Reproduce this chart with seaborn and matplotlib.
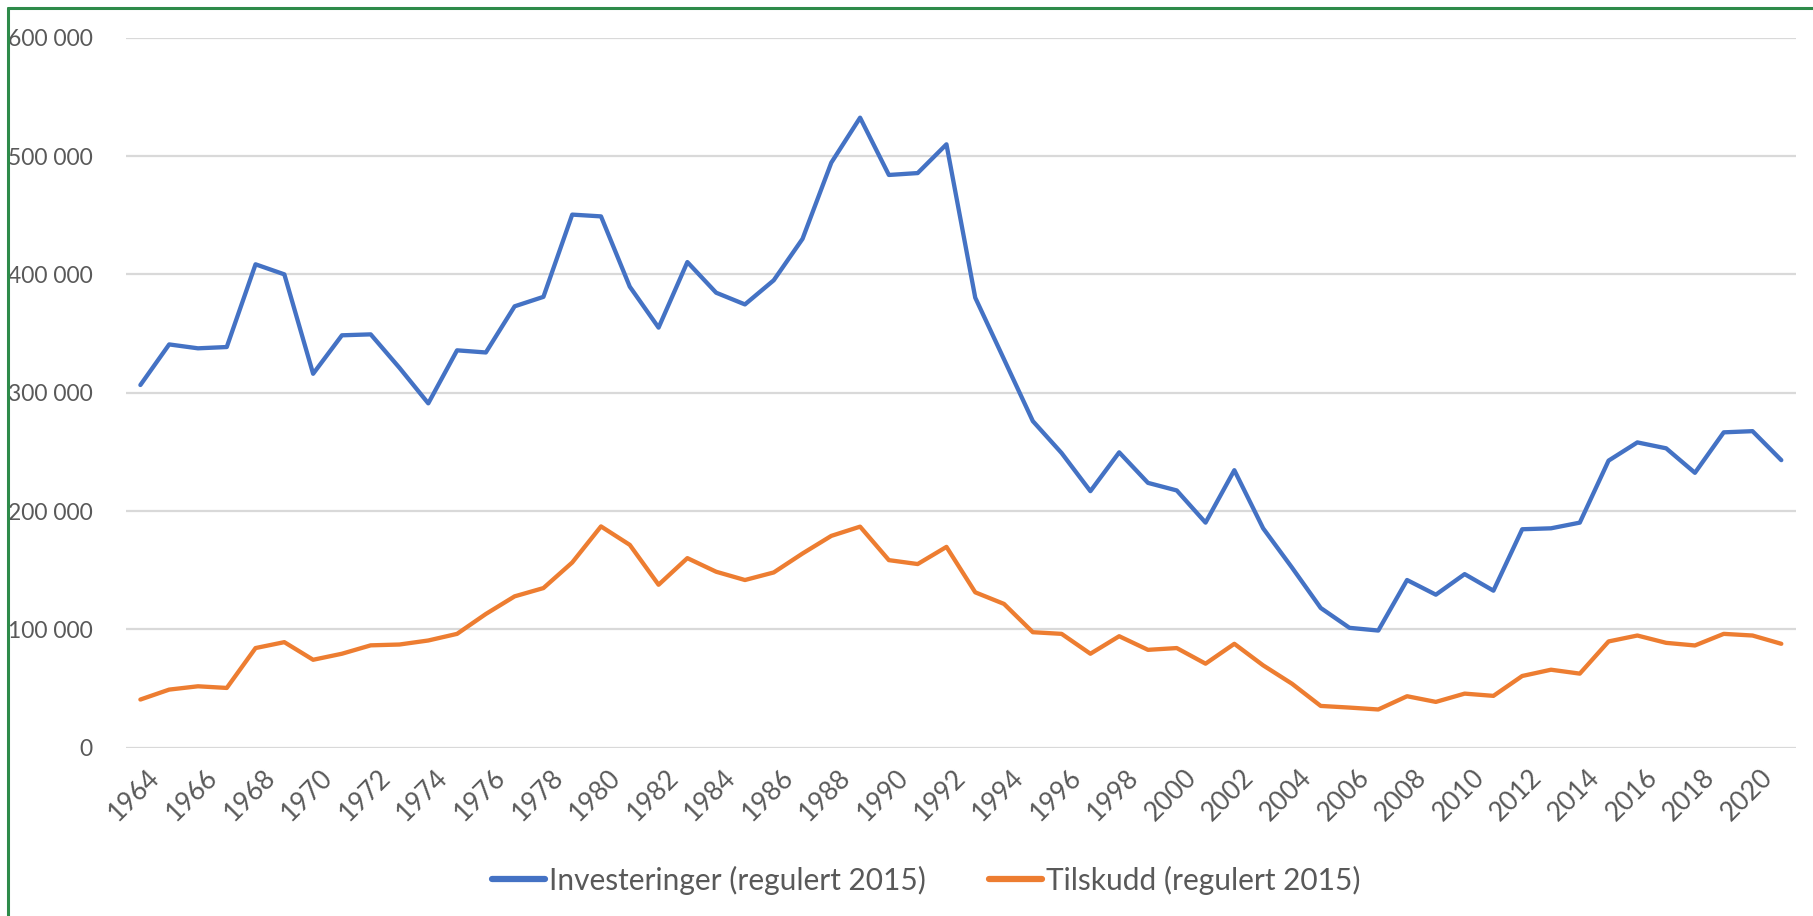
import matplotlib
matplotlib.use("Agg")
import matplotlib.pyplot as plt
import matplotlib.ticker as mticker
import matplotlib.transforms as mtransforms
from matplotlib.lines import Line2D
import seaborn as sns
import pandas as pd

years = list(range(1964, 2022))

investeringer = [
    306500, 340800, 337500, 338600, 408500, 400000, 316000, 348500, 349300, 321000,
    291000, 335800, 334000, 373000, 381000, 450500, 449000, 389600, 355000, 410400,
    384500, 374600, 395000, 430000, 494400, 532400, 484000, 485600, 509900, 380300,
    328200, 276000, 249000, 216800, 249600, 223800, 217400, 190200, 234500, 185400,
    152300, 118100, 101300, 99000, 141700, 129300, 146700, 132700, 184600, 185400,
    190200, 242600, 258000, 253000, 232300, 266500, 267500, 243000,
]

tilskudd = [
    40700, 49100, 51900, 50500, 84200, 89200, 74300, 79400, 86500, 87200,
    90600, 96200, 113000, 127900, 134900, 156500, 187000, 171400, 137700, 160200,
    148700, 141700, 148100, 164100, 179000, 186800, 158500, 155200, 169700, 131300,
    121500, 97600, 96200, 79400, 94200, 82700, 84200, 71000, 87800, 69600,
    54100, 35300, 33900, 32300, 43500, 38700, 45700, 43800, 60600, 65900,
    62600, 89800, 94800, 88600, 86400, 96200, 94800, 87800,
]

series_names = ["Investeringer (regulert 2015)", "Tilskudd (regulert 2015)"]
colors = ["#4472C4", "#ED7D31"]
x_tick_labels = [str(y) for y in range(1964, 2021, 2)]
y_ticks = [0, 100000, 200000, 300000, 400000, 500000, 600000]

df = pd.DataFrame({
    "year": years * 2,
    "value": investeringer + tilskudd,
    "series": [series_names[0]] * len(years) + [series_names[1]] * len(years),
})

sns.set_theme(style="white")
plt.rcParams["font.family"] = ["Lato", "DejaVu Sans"]

W, H = 1813, 916
fig = plt.figure(figsize=(W / 100, H / 100), dpi=100)
left, right = 126, 1795.7
top, bottom = 37.7, 747.7
ax = fig.add_axes([left / W, 1 - bottom / H, (right - left) / W, (bottom - top) / H])

sns.lineplot(data=df, x="year", y="value", hue="series", palette=colors,
             linewidth=3.1, ax=ax, legend=False, sort=False)
for ln in ax.get_lines():
    ln.set_solid_capstyle("round")
    ln.set_solid_joinstyle("round")

ax.set_xlim(1963.5, 2021.5)
ax.set_ylim(0, 600000)
ax.set_yticks(y_ticks)
ax.yaxis.set_major_formatter(mticker.FuncFormatter(lambda v, p: f"{int(v):,}".replace(",", " ")))
ax.set_xticks([int(t) for t in x_tick_labels])
ax.set_xticklabels(x_tick_labels)
ax.grid(axis="y", color="#D9D9D9", linewidth=1.6)
ax.set_axisbelow(True)
for s in ax.spines.values():
    s.set_visible(False)
ax.set_xlabel("")
ax.set_ylabel("")
ax.tick_params(axis="y", length=0, pad=24, labelsize=16.5, labelcolor="#595959")
ax.tick_params(axis="x", length=0, pad=12, labelsize=19, labelcolor="#595959")
offset = mtransforms.ScaledTranslation(7 / 100, 0, fig.dpi_scale_trans)
for lab in ax.get_xticklabels():
    lab.set_rotation(45)
    lab.set_ha("right")
    lab.set_va("top")
    lab.set_rotation_mode("anchor")
    lab.set_transform(lab.get_transform() + offset)

handles = [Line2D([0], [0], color=c, lw=4.5, solid_capstyle="round") for c in colors]
fig.legend(handles, series_names, loc="center", bbox_to_anchor=(926 / W, 1 - 880 / H),
           ncol=2, frameon=False, fontsize=21.5, labelcolor="#595959",
           handlelength=1.8, handletextpad=0.12, columnspacing=2.1)

# chart border (green)
fig.add_artist(Line2D([7.5 / W, 1.0], [1 - 7.5 / H, 1 - 7.5 / H], transform=fig.transFigure,
                      color="#2E8B4A", lw=2.2))
fig.add_artist(Line2D([7.5 / W, 7.5 / W], [0, 1 - 7.5 / H], transform=fig.transFigure,
                      color="#2E8B4A", lw=2.2))

fig.savefig("out.png", dpi=100)
